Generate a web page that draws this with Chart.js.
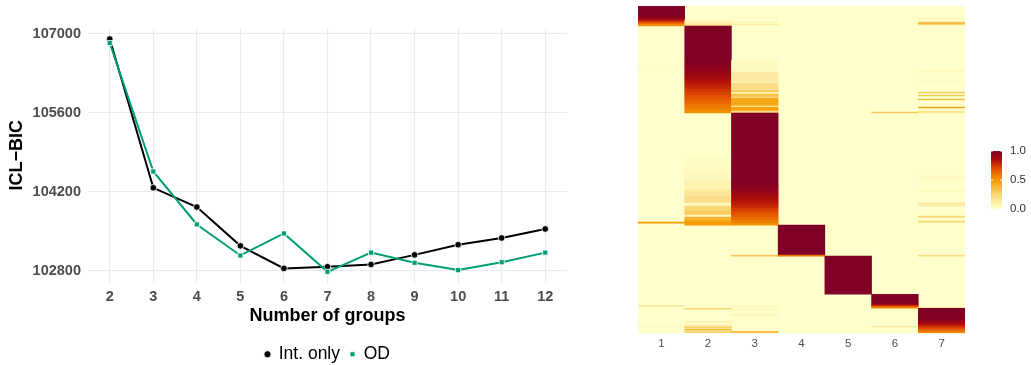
<!DOCTYPE html>
<html>
<head>
<meta charset="utf-8">
<script src="https://cdn.jsdelivr.net/npm/chart.js@4.4.1/dist/chart.umd.min.js"></script>
<style>
  body { margin: 0; background: #fff; }
  #wrap { position: relative; width: 1031px; height: 365px; }
  .box { position: absolute; top: 0; height: 365px; }
</style>
</head>
<body>
<div id="wrap">
  <div class="box" style="left:0;width:600px"><canvas id="bicChart"></canvas></div>
  <div class="box" style="left:600px;width:431px"><canvas id="heatChart"></canvas></div>
</div>
<script>
// ICL-BIC by number of groups
const groups = ['2', '3', '4', '5', '6', '7', '8', '9', '10', '11', '12'];
const intOnly = [106910, 104270, 103930, 103240, 102840, 102870, 102910, 103080, 103260, 103380, 103540];
const odModel = [106840, 104560, 103620, 103070, 103460, 102780, 103120, 102940, 102810, 102950, 103120];
const bicTicks = [102800, 104200, 105600, 107000];

// membership probabilities, cells per column: [fromRow, toRow, prob]
const heatColumns = ['1', '2', '3', '4', '5', '6', '7'];
const totalRows = 327;
const col1Cells = [[0, 10, 1], [10, 11, 0.98], [11, 12, 0.95], [12, 13, 0.92], [13, 14, 0.88], [14, 15, 0.83], [15, 16, 0.77],
  [16, 17, 0.7], [17, 18, 0.63], [18, 19, 0.57], [19, 20, 0.52],
  [60, 61, 0.03], [216, 217, 0.5], [299, 300, 0.15], [320, 321, 0.03]];
const col2Cells = [[14, 17, 0.06], [17, 19, 0.12], [19, 20, 0.2],
  [20, 56, 1], [56, 59, 0.98], [59, 62, 0.96], [62, 65, 0.94], [65, 68, 0.92], [68, 71, 0.9], [71, 74, 0.87], [74, 77, 0.84],
  [77, 80, 0.81], [80, 83, 0.78], [83, 86, 0.75], [86, 89, 0.72], [89, 92, 0.69], [92, 95, 0.66], [95, 98, 0.63],
  [98, 101, 0.6], [101, 104, 0.57], [104, 107, 0.53],
  [150, 164, 0.02], [164, 174, 0.04], [174, 184, 0.08], [184, 190, 0.15], [190, 197, 0.2], [197, 200, 0.03], [200, 205, 0.25], [205, 209, 0.3],
  [209, 211, 0.03], [211, 214, 0.4], [214, 216, 0.45], [216, 219, 0.5],
  [302, 303, 0.25], [315, 317, 0.06], [319, 321, 0.15], [321, 322, 0.3], [323, 324, 0.4], [325, 327, 0.25]];
const col3Cells = [[11, 12, 0.04], [16, 17, 0.08], [18, 19, 0.12],
  [54, 66, 0.03], [66, 76, 0.12], [76, 77, 0.02], [77, 85, 0.2], [85, 86, 0.42], [86, 88, 0.05], [88, 91, 0.35], [91, 92, 0.15],
  [92, 100, 0.45], [100, 101, 0.05], [101, 105, 0.47], [105, 107, 0.2],
  [107, 178, 1], [178, 181, 0.98], [181, 184, 0.96], [184, 187, 0.93], [187, 190, 0.9], [190, 193, 0.87], [193, 196, 0.84],
  [196, 199, 0.81], [199, 202, 0.78], [202, 205, 0.74], [205, 208, 0.7], [208, 211, 0.66], [211, 214, 0.62], [214, 217, 0.57], [217, 219, 0.53],
  [249, 250, 0.3], [300, 301, 0.06], [303, 304, 0.05], [307, 310, 0.04], [325, 327, 0.35]];
const col4Cells = [[219, 249, 1], [249, 250, 0.6]];
const col5Cells = [[250, 288, 1]];
const col6Cells = [[106, 107, 0.3], [288, 297, 1], [297, 298, 0.95], [298, 299, 0.88], [299, 300, 0.78], [300, 301, 0.66], [301, 302, 0.56],
  [320, 321, 0.12]];
const col7Cells = [[12, 13, 0.06], [16, 17, 0.3], [17, 18, 0.4], [18, 19, 0.25],
  [64, 66, 0.04], [75, 76, 0.03], [86, 87, 0.3], [89, 90, 0.3], [93, 94, 0.35], [101, 102, 0.45], [105, 107, 0.15],
  [170, 171, 0.04], [173, 174, 0.03], [184, 185, 0.05], [197, 198, 0.15], [199, 200, 0.1], [210, 211, 0.25], [215, 216, 0.25],
  [249, 250, 0.2], [301, 302, 0.15],
  [302, 313, 1], [313, 314, 0.98], [314, 315, 0.96], [315, 316, 0.93], [316, 317, 0.9], [317, 318, 0.87], [318, 319, 0.84],
  [319, 320, 0.8], [320, 321, 0.77], [321, 322, 0.73], [322, 323, 0.7], [323, 324, 0.66], [324, 325, 0.62], [325, 326, 0.58], [326, 327, 0.54]];
const legendTicks = [0, 0.5, 1];

const FONT = "'Liberation Sans', Arial, sans-serif";
Chart.defaults.font.family = FONT;
Chart.defaults.animation = false;

// colour scale for probabilities
const colourStops = [
  [0, [255, 255, 204]],
  [0.25, [250, 214, 118]],
  [0.5, [245, 155, 0]],
  [0.7, [226, 76, 0]],
  [0.85, [172, 12, 10]],
  [1, [128, 0, 38]]
];
function probColour(p) {
  for (let i = 1; i < colourStops.length; i++) {
    const [p1, c1] = colourStops[i];
    const [p0, c0] = colourStops[i - 1];
    if (p <= p1) {
      const t = (p - p0) / (p1 - p0);
      const c = c0.map((v, k) => Math.round(v + (c1[k] - v) * t));
      return 'rgb(' + c.join(',') + ')';
    }
  }
  return 'rgb(128,0,38)';
}

// ---------- left: ICL-BIC lines ----------
new Chart(document.getElementById('bicChart'), {
  type: 'line',
  data: {
    labels: groups,
    datasets: [{
      label: 'Int. only',
      data: intOnly,
      borderColor: '#000000',
      backgroundColor: '#000000',
      borderWidth: 2,
      pointStyle: 'circle',
      pointRadius: 3.3,
      pointBackgroundColor: '#000000',
      pointBorderColor: '#ffffff',
      pointBorderWidth: 0.8,
      order: 1
    }, {
      label: 'OD',
      data: odModel,
      borderColor: '#009E73',
      backgroundColor: '#009E73',
      borderWidth: 2,
      pointStyle: 'rect',
      pointRadius: 3.6,
      pointBackgroundColor: '#009E73',
      pointBorderColor: '#ffffff',
      pointBorderWidth: 0.8,
      order: 0
    }]
  },
  options: {
    responsive: true,
    maintainAspectRatio: false,
    layout: { padding: { top: 28, left: 6, right: 33, bottom: -8 } },
    plugins: {
      tooltip: { enabled: false },
      legend: {
        position: 'bottom',
        fullSize: false,
        labels: {
          usePointStyle: true,
          boxWidth: 5,
          boxHeight: 5,
          padding: 10,
          color: '#000000',
          font: { size: 17.5 },
          sort: (a, b) => a.datasetIndex - b.datasetIndex
        }
      }
    },
    scales: {
      x: {
        offset: true,
        grid: { color: '#EBEBEB', lineWidth: 1.1, drawTicks: false, offset: false },
        border: { display: false },
        ticks: { color: '#4D4D4D', font: { size: 14.5, weight: 'bold' }, padding: 6 },
        title: { display: true, text: 'Number of groups', color: '#000000', font: { size: 18, weight: 'bold' }, padding: { top: -6.5, bottom: 8.5 } }
      },
      y: {
        min: 102590,
        max: 107106,
        afterBuildTicks: (scale) => { scale.ticks = bicTicks.map(v => ({ value: v })); },
        grid: { color: '#EBEBEB', lineWidth: 1.1, drawTicks: false },
        border: { display: false },
        ticks: { color: '#4D4D4D', font: { size: 14.5, weight: 'bold' }, padding: 7, callback: (v) => String(v) },
        title: { display: true, text: 'ICL\u2212BIC', color: '#000000', font: { size: 18, weight: 'bold' }, padding: { top: 0, bottom: -2 } }
      }
    }
  }
});

// ---------- right: membership heatmap ----------
const allCols = [col1Cells, col2Cells, col3Cells, col4Cells, col5Cells, col6Cells, col7Cells];
const heatData = [];
allCols.forEach((cells, ci) => {
  cells.forEach(c => heatData.push({ x: heatColumns[ci], y: [c[0], c[1]], v: c[2] }));
});

const zeroFill = {
  id: 'zeroFill',
  beforeDatasetsDraw(chart) {
    const a = chart.chartArea;
    chart.ctx.save();
    chart.ctx.fillStyle = probColour(0);
    chart.ctx.fillRect(a.left, a.top, a.right - a.left, a.bottom - a.top);
    chart.ctx.restore();
  }
};

const colourBar = {
  id: 'colourBar',
  afterDraw(chart) {
    const ctx = chart.ctx;
    const x = 391, w = 11, top = 151, bottom = 209;
    const g = ctx.createLinearGradient(0, bottom, 0, top);
    for (let i = 0; i <= 20; i++) g.addColorStop(i / 20, probColour(i / 20));
    ctx.save();
    ctx.fillStyle = g;
    ctx.fillRect(x, top, w, bottom - top);
    ctx.strokeStyle = '#ffffff';
    ctx.lineWidth = 1;
    ctx.font = '11.5px ' + FONT;
    ctx.fillStyle = '#333333';
    ctx.textBaseline = 'middle';
    legendTicks.forEach(t => {
      const y = bottom - t * (bottom - top);
      ctx.beginPath();
      ctx.moveTo(x, y); ctx.lineTo(x + 2, y);
      ctx.moveTo(x + w - 2, y); ctx.lineTo(x + w, y);
      ctx.stroke();
      ctx.fillText(t.toFixed(1), x + 19, y);
    });
    ctx.restore();
  }
};

new Chart(document.getElementById('heatChart'), {
  type: 'bar',
  data: {
    labels: heatColumns,
    datasets: [{
      data: heatData,
      backgroundColor: (c) => probColour(c.raw ? c.raw.v : 0),
      borderWidth: 0,
      categoryPercentage: 1,
      barPercentage: 1,
      inflateAmount: 0.3
    }]
  },
  options: {
    responsive: true,
    maintainAspectRatio: false,
    layout: { padding: { top: 6, left: 38, right: 66, bottom: 10 } },
    plugins: { legend: { display: false }, tooltip: { enabled: false } },
    scales: {
      x: {
        grid: { display: false, drawTicks: false },
        border: { display: false },
        ticks: { color: '#4D4D4D', font: { size: 11.5 }, padding: 4 }
      },
      y: {
        display: false,
        min: 0,
        max: totalRows,
        reverse: true
      }
    }
  },
  plugins: [zeroFill, colourBar]
});
</script>
</body>
</html>
